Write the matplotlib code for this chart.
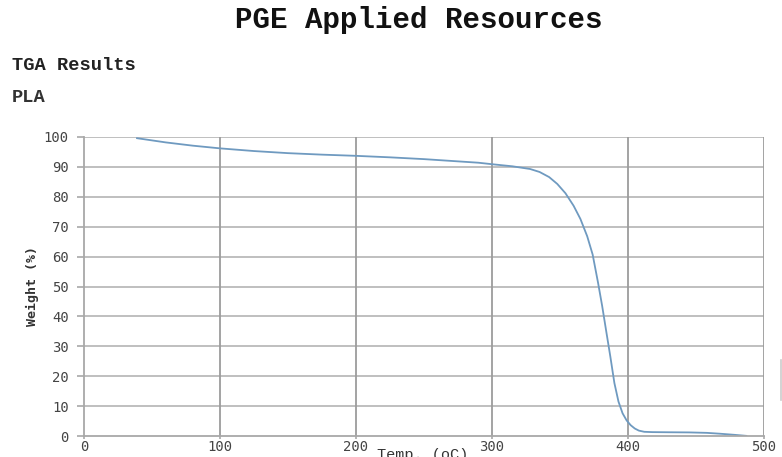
import matplotlib
matplotlib.use("Agg")
import matplotlib.pyplot as plt
from matplotlib.lines import Line2D

# Data
temp_c = [39, 60, 80, 100, 125, 150, 175, 200, 225, 250, 270, 290, 300, 315,
          328, 335, 342, 348, 354, 360, 365, 370, 374, 378, 381, 384, 387,
          390, 393, 396, 399, 402, 405, 408, 412, 418, 430, 445, 458, 468,
          478, 487]
weight_pct = [99.6, 98.2, 97.1, 96.2, 95.3, 94.6, 94.1, 93.7, 93.2, 92.6, 92.0,
              91.4, 90.9, 90.2, 89.3, 88.3, 86.6, 84.3, 81.2, 77.0, 72.6, 66.8,
              60.7, 51.2, 43.5, 35.0, 26.6, 17.7, 11.5, 7.6, 5.2, 3.6, 2.5, 1.8,
              1.4, 1.3, 1.25, 1.2, 1.05, 0.75, 0.4, 0.05]

x_ticks = [0, 100, 200, 300, 400, 500]
y_ticks = [0, 10, 20, 30, 40, 50, 60, 70, 80, 90, 100]

W, H = 782, 457
fig = plt.figure(figsize=(W / 100, H / 100), dpi=100)
fig.patch.set_facecolor("white")

left, right, top, bottom = 84, 764, 137, 436
ax = fig.add_axes([left / W, (H - bottom) / H, (right - left) / W, (bottom - top) / H])
ax.set_xlim(0, 500)
ax.set_ylim(0, 100)

ax.plot(temp_c, weight_pct, color="#6f9ac0", lw=1.3, solid_joinstyle="round")

ax.set_xticks(x_ticks)
ax.set_yticks(y_ticks)
for t in y_ticks[1:]:
    ax.axhline(t, color="#b4b4b4", lw=1.2, zorder=0)
for t in x_ticks[1:]:
    ax.axvline(t, color="#9c9c9c", lw=1.3, zorder=0)

for s in ["top", "right"]:
    ax.spines[s].set_visible(False)
ax.spines["left"].set_color("#a8a8a8")
ax.spines["bottom"].set_color("#a8a8a8")
ax.spines["left"].set_linewidth(1.3)
ax.spines["bottom"].set_linewidth(1.3)
ax.tick_params(axis="both", colors="#a8a8a8", width=1.2,
               labelcolor="#444444", labelsize=10)
ax.tick_params(axis="x", length=2, pad=1)
ax.tick_params(axis="y", length=5, pad=6)
for lbl in ax.get_xticklabels() + ax.get_yticklabels():
    lbl.set_family("DejaVu Sans Mono")

ax.set_ylabel("Weight (%)", family="DejaVu Sans Mono", fontweight="bold",
              fontsize=9.5, color="#333333", labelpad=3)

fig.text(419 / W, 1 - 20 / H, "PGE Applied Resources", family="Liberation Mono",
         fontweight="bold", fontsize=21, ha="center", va="center", color="#111111")
fig.text(12 / W, 1 - 65 / H, "TGA Results", family="Liberation Mono",
         fontweight="bold", fontsize=13.5, ha="left", va="center", color="#222222")
fig.text(12 / W, 1 - 98 / H, "PLA", family="Liberation Mono",
         fontweight="bold", fontsize=13.5, ha="left", va="center", color="#333333")
fig.text(423 / W, 1 - 455 / H, "Temp. (oC)", family="Liberation Mono",
         fontsize=11, ha="center", va="center", color="#333333")

fig.add_artist(Line2D([781 / W, 781 / W], [1 - 360 / H, 1 - 400 / H],
                      color="#cccccc", lw=1.2))

fig.savefig("out.png", dpi=100, facecolor="white")
